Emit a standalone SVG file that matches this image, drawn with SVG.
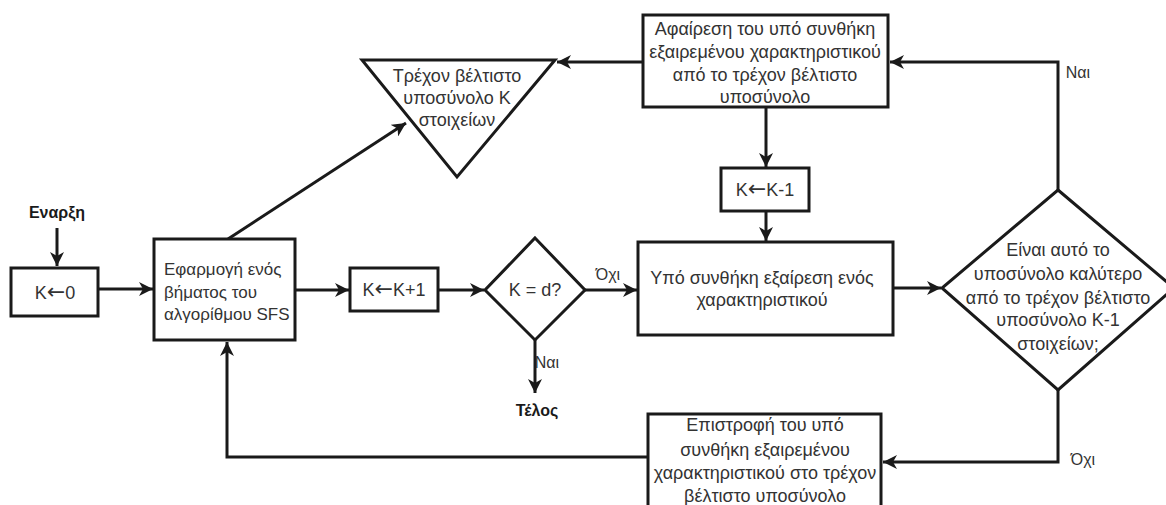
<svg xmlns="http://www.w3.org/2000/svg" width="1166" height="505" viewBox="0 0 1166 505">
  <style>
    .shape { fill: #ffffff; stroke: #1a1a1a; stroke-width: 3; }
    .line { fill: none; stroke: #1a1a1a; stroke-width: 3; }
    .txt { font-family: "Liberation Sans", "DejaVu Sans", sans-serif; font-size: 18px; fill: #333333; text-anchor: middle; }
    .lbl { font-size: 16px; }
    .left { text-anchor: start; font-size: 17px; }
    .bold { font-weight: bold; fill: #1a1a1a; font-size: 16px; }
    .arw { font-family: "DejaVu Sans", sans-serif; font-size: 22px; }
  </style>
  <defs>
    <marker id="head" markerUnits="userSpaceOnUse" markerWidth="16" markerHeight="14" refX="14" refY="7" orient="auto">
      <path d="M0,0 L14,7 L0,14 L4,7 Z" fill="#1a1a1a"/>
    </marker>
  </defs>

  <!-- connectors -->
  <g id="connectors">
    <path class="line" d="M57,228 L57,266" marker-end="url(#head)"/>
    <path class="line" d="M98,289 L153,289" marker-end="url(#head)"/>
    <path class="line" d="M228,239 L406,123" marker-end="url(#head)"/>
    <path class="line" d="M295,290 L349,290" marker-end="url(#head)"/>
    <path class="line" d="M438,290 L484,290" marker-end="url(#head)"/>
    <path class="line" d="M585,290 L637,290" marker-end="url(#head)"/>
    <path class="line" d="M535,340 L535,393" marker-end="url(#head)"/>
    <path class="line" d="M893,288 L941,288" marker-end="url(#head)"/>
    <path class="line" d="M1058,190 L1058,62 L890,62" marker-end="url(#head)"/>
    <path class="line" d="M643,62 L557,62" marker-end="url(#head)"/>
    <path class="line" d="M766,107 L766,167" marker-end="url(#head)"/>
    <path class="line" d="M766,211 L766,241" marker-end="url(#head)"/>
    <path class="line" d="M1058,390 L1058,462 L883,462" marker-end="url(#head)"/>
    <path class="line" d="M648,457 L227,457 L227,342" marker-end="url(#head)"/>
    <text class="txt lbl" x="608" y="280">Όχι</text>
    <text class="txt lbl" x="547" y="368">Ναι</text>
    <text class="txt lbl" x="1078" y="78">Ναι</text>
    <text class="txt lbl" x="1083" y="465">Όχι</text>
  </g>

  <!-- start / end labels -->
  <g id="start">
    <text class="txt bold" x="57" y="218">Εναρξη</text>
  </g>
  <g id="end">
    <text class="txt bold" x="537" y="416">Τέλος</text>
  </g>

  <!-- K <- 0 -->
  <g id="init">
    <rect class="shape" x="11" y="268" width="87" height="48"/>
    <text class="txt" x="55" y="299">K<tspan class="arw">←</tspan>0</text>
  </g>

  <!-- SFS step -->
  <g id="sfs">
    <rect class="shape" x="154" y="239" width="141" height="101"/>
    <text class="txt left" x="164" y="275">Εφαρμογή ενός</text>
    <text class="txt left" x="164" y="298">βήματος του</text>
    <text class="txt left" x="164" y="320">αλγορίθμου SFS</text>
  </g>

  <!-- current best subset (triangle) -->
  <g id="best">
    <polygon class="shape" points="362,60 555,60 457,177"/>
    <text class="txt" x="457" y="82">Τρέχον βέλτιστο</text>
    <text class="txt" x="457" y="104">υποσύνολο Κ</text>
    <text class="txt" x="457" y="126">στοιχείων</text>
  </g>

  <!-- K <- K+1 -->
  <g id="inc">
    <rect class="shape" x="350" y="268" width="88" height="43"/>
    <text class="txt" x="394" y="296">K<tspan class="arw">←</tspan>K+1</text>
  </g>

  <!-- K = d? -->
  <g id="check">
    <polygon class="shape" points="535,238 585,290 535,340 485,290"/>
    <text class="txt" x="535" y="296">K = d?</text>
  </g>

  <!-- remove feature -->
  <g id="remove">
    <rect class="shape" x="643" y="15" width="245" height="92"/>
    <text class="txt" x="765" y="35">Αφαίρεση του υπό συνθήκη</text>
    <text class="txt" x="765" y="58">εξαιρεμένου χαρακτηριστικού</text>
    <text class="txt" x="765" y="81">από το τρέχον βέλτιστο</text>
    <text class="txt" x="765" y="103">υποσύνολο</text>
  </g>

  <!-- K <- K-1 -->
  <g id="dec">
    <rect class="shape" x="721" y="168" width="88" height="43"/>
    <text class="txt" x="765" y="196">K<tspan class="arw">←</tspan>K-1</text>
  </g>

  <!-- conditional exclusion -->
  <g id="exclude">
    <rect class="shape" x="638" y="242" width="255" height="93"/>
    <text class="txt" x="762" y="284">Υπό συνθήκη εξαίρεση ενός</text>
    <text class="txt" x="762" y="306">χαρακτηριστικού</text>
  </g>

  <!-- better subset? -->
  <g id="better">
    <polygon class="shape" points="1058,190 1174,288 1058,390 942,288"/>
    <text class="txt" x="1058" y="256">Είναι αυτό το</text>
    <text class="txt" x="1058" y="280">υποσύνολο καλύτερο</text>
    <text class="txt" x="1058" y="304">από το τρέχον βέλτιστο</text>
    <text class="txt" x="1058" y="326">υποσύνολο Κ-1</text>
    <text class="txt" x="1058" y="350">στοιχείων;</text>
  </g>

  <!-- restore feature -->
  <g id="restore">
    <rect class="shape" x="648" y="414" width="233" height="100"/>
    <text class="txt" x="765" y="431">Επιστροφή του υπό</text>
    <text class="txt" x="765" y="456">συνθήκη εξαιρεμένου</text>
    <text class="txt" x="765" y="479">χαρακτηριστικού στο τρέχον</text>
    <text class="txt" x="765" y="502">βέλτιστο υποσύνολο</text>
  </g>
</svg>
